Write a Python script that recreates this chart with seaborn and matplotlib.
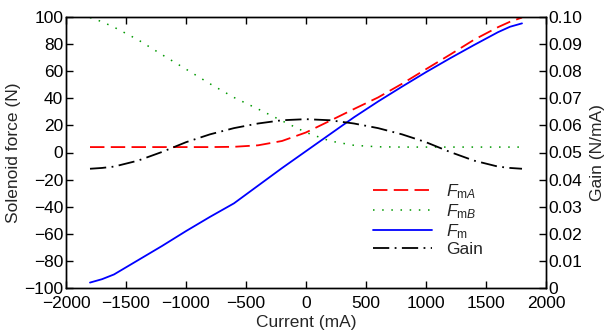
import matplotlib
matplotlib.use("Agg")
import matplotlib.pyplot as plt
import seaborn as sns
import pandas as pd

current = [-1800, -1700, -1600, -1400, -1200, -1000, -800, -600, -400, -200, 0,
           200, 400, 600, 800, 1000, 1200, 1400, 1600, 1700, 1800]
f_ma = [4.0, 4.0, 4.0, 4.0, 4.0, 4.0, 4.0, 4.2, 5.3, 8.5, 14.8,
        23.4, 32.1, 40.6, 50.7, 61.5, 72.2, 83.2, 92.5, 96.5, 99.6]
f_mb = [99.6, 96.5, 92.5, 83.2, 72.2, 61.5, 50.7, 40.6, 32.1, 23.4, 14.8,
        8.5, 5.3, 4.2, 4.0, 4.0, 4.0, 4.0, 4.0, 4.0, 4.0]
f_m = [-96.0, -93.5, -90.0, -79.5, -69.0, -58.0, -47.5, -37.5, -24.5, -11.5, 1.0,
       13.5, 26.0, 37.6, 48.6, 59.3, 69.5, 79.3, 88.8, 92.8, 95.3]
gain = [0.0440, 0.0443, 0.0448, 0.0470, 0.0502, 0.0538, 0.0567, 0.0590, 0.0607, 0.0619, 0.0623,
        0.0619, 0.0607, 0.0590, 0.0567, 0.0538, 0.0502, 0.0470, 0.0448, 0.0443, 0.0440]

df = pd.DataFrame({"current": current, "fma": f_ma, "fmb": f_mb, "fm": f_m, "gain": gain})

sns.set_style("white")
plt.rcParams["font.family"] = ["Liberation Sans", "DejaVu Sans"]
plt.rcParams["mathtext.fontset"] = "custom"
plt.rcParams["mathtext.rm"] = "Liberation Sans"
plt.rcParams["mathtext.it"] = "Liberation Sans:italic"
FS = 12.5

fig = plt.figure(figsize=(6.08, 3.33), dpi=100)
ax = fig.add_axes([66/608, 1-288/333, 480/608, 271/333])
ax2 = ax.twinx()

sns.lineplot(data=df, x="current", y="fma", ax=ax, color=(1, 0, 0), lw=1.3,
             linestyle=(0, (8, 3.5)), label=r"$F_{\mathrm{m}A}$", legend=False)
sns.lineplot(data=df, x="current", y="fmb", ax=ax, color=(0, 0.6, 0), lw=1.1,
             linestyle=(0, (1, 5)), label=r"$F_{\mathrm{m}B}$", legend=False)
sns.lineplot(data=df, x="current", y="fm", ax=ax, color=(0, 0, 1), lw=1.3,
             linestyle="-", label=r"$F_{\mathrm{m}}$", legend=False)
sns.lineplot(data=df, x="current", y="gain", ax=ax2, color="black", lw=1.3,
             linestyle=(0, (9, 3, 1, 3)), label="Gain", legend=False)

ax.set_xlim(-2000, 2000)
ax.set_ylim(-100, 100)
ax2.set_ylim(0, 0.1)
ax.set_xticks(range(-2000, 2001, 500))
ax.set_yticks(range(-100, 101, 20))
ax2.set_yticks([i / 100 for i in range(0, 11)])
ax2.set_yticklabels(["0"] + [f"{i/100:.2f}" for i in range(1, 11)])

ax.set_xlabel("Current (mA)", fontsize=FS, labelpad=3)
ax.set_ylabel("Solenoid force (N)", fontsize=FS, labelpad=2)
ax2.set_ylabel("Gain (N/mA)", fontsize=FS, labelpad=5)

ax.tick_params(axis="x", direction="in", top=True, bottom=True, length=5,
               width=1, labelsize=FS, pad=6, colors="black")
ax.tick_params(axis="y", direction="in", left=True, right=False, length=5,
               width=1, labelsize=FS, pad=2, colors="black")
ax2.tick_params(axis="y", direction="in", right=True, length=5, width=1,
                labelsize=FS, pad=2, colors="black")
for a in (ax, ax2):
    for s in a.spines.values():
        s.set_color("black")
        s.set_linewidth(1.0)

h1, l1 = ax.get_legend_handles_labels()
h2, l2 = ax2.get_legend_handles_labels()
ax2.legend(h1 + h2, l1 + l2, loc="upper left", bbox_to_anchor=(373/608, 1-182/333),
           bbox_transform=fig.transFigure, frameon=False, fontsize=FS,
           handlelength=3.4, handletextpad=0.8, labelspacing=0.08, borderpad=0,
           borderaxespad=0)

fig.savefig("out.png", dpi=100)
